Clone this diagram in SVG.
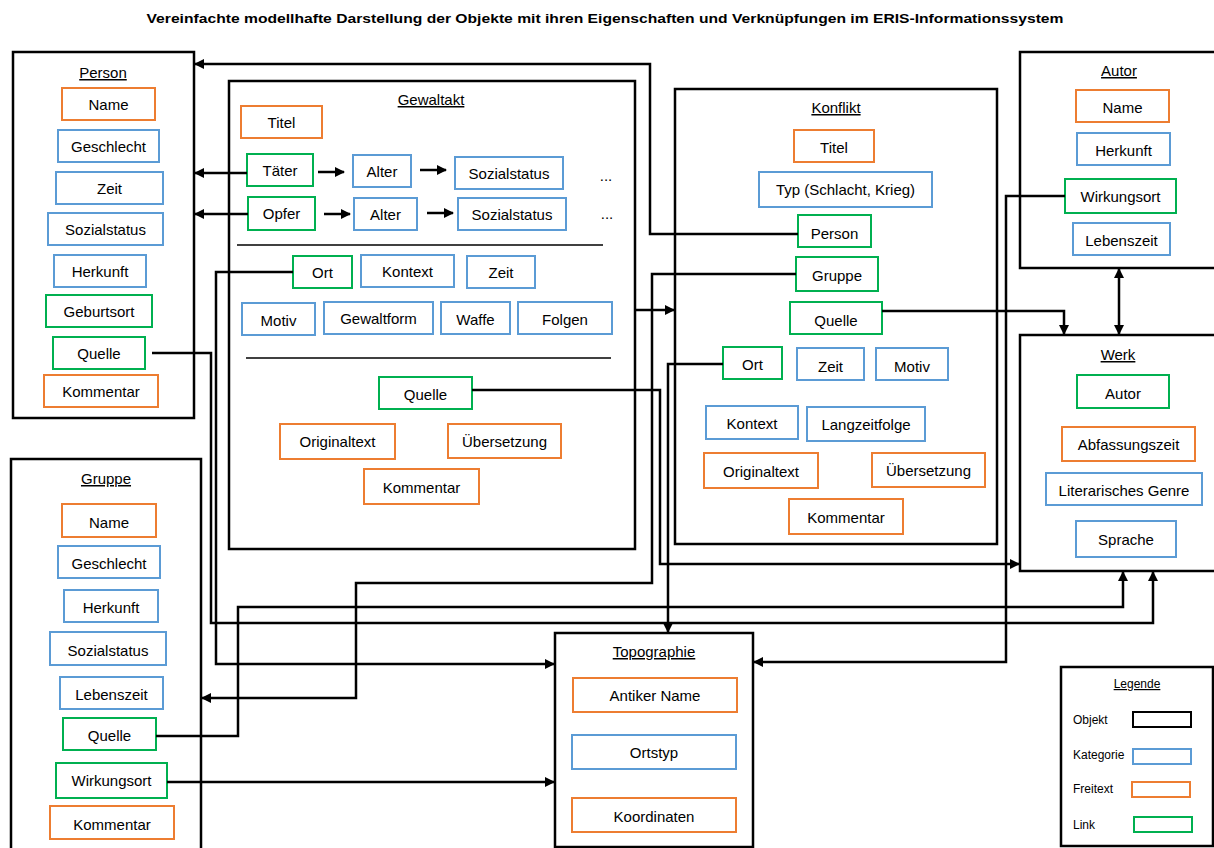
<svg xmlns="http://www.w3.org/2000/svg" width="1214" height="848" viewBox="0 0 1214 848">
  <style>
    text { font-family: "Liberation Sans", Arial, sans-serif; font-size: 15px; fill: #000; text-anchor: middle; }
    .head { text-decoration: underline; font-size: 15px; }
    .title { font-weight: bold; font-size: 13.5px; }
    .leg { font-size: 12px; text-anchor: start; }
    .legh { font-size: 12px; text-decoration: underline; }
    .obj { fill: none; stroke: #000; stroke-width: 2.5; }
    .cat { fill: #fff; stroke: #5B9BD5; stroke-width: 2; }
    .free { fill: #fff; stroke: #ED7D31; stroke-width: 2; }
    .link { fill: #fff; stroke: #00B050; stroke-width: 2; }
    .sep { stroke: #000; stroke-width: 1.5; }
    .con { fill: none; stroke: #000; stroke-width: 2.5; }
    .arr { marker-end: url(#head); }
  </style>
  <defs>
    <marker id="head" markerUnits="userSpaceOnUse" markerWidth="10" markerHeight="10" viewBox="0 0 10 10" refX="9" refY="5" orient="auto">
      <path d="M0,0 L10,5 L0,10 Z" fill="#000"/>
    </marker>
    <marker id="tail" markerUnits="userSpaceOnUse" markerWidth="10" markerHeight="10" viewBox="0 0 10 10" refX="1" refY="5" orient="auto">
      <path d="M10,0 L0,5 L10,10 Z" fill="#000"/>
    </marker>
  </defs>

  <rect width="1214" height="848" fill="#fff"/>

  <text class="title" x="605" y="23" textLength="917" lengthAdjust="spacingAndGlyphs">Vereinfachte modellhafte Darstellung der Objekte mit ihren Eigenschaften und Verknüpfungen im ERIS-Informationssystem</text>

  <!-- Person -->
  <g id="person">
    <rect class="obj" x="13" y="52" width="181" height="366"/>
    <text class="head" x="103" y="78">Person</text>
    <rect class="free" x="62" y="88" width="93" height="32"/><text x="108.5" y="110">Name</text>
    <rect class="cat" x="58" y="130" width="101" height="32"/><text x="108.5" y="152">Geschlecht</text>
    <rect class="cat" x="56" y="172" width="107" height="32"/><text x="109.5" y="194">Zeit</text>
    <rect class="cat" x="48" y="213" width="115" height="32"/><text x="105.5" y="235">Sozialstatus</text>
    <rect class="cat" x="54" y="255" width="92" height="32"/><text x="100" y="277">Herkunft</text>
    <rect class="link" x="46" y="295" width="106" height="32"/><text x="99" y="317">Geburtsort</text>
    <rect class="link" x="53" y="337" width="92" height="32"/><text x="99" y="359">Quelle</text>
    <rect class="free" x="44" y="375" width="114" height="32"/><text x="101" y="397">Kommentar</text>
  </g>

  <!-- Gewaltakt -->
  <g id="gewaltakt">
    <rect class="obj" x="229" y="81" width="406" height="468"/>
    <text class="head" x="431" y="105">Gewaltakt</text>
    <rect class="free" x="241" y="106" width="81" height="32"/><text x="281.5" y="128">Titel</text>
    <rect class="link" x="247" y="154" width="66" height="32"/><text x="280" y="176">Täter</text>
    <rect class="cat" x="353" y="155" width="58" height="32"/><text x="382" y="177">Alter</text>
    <rect class="cat" x="455" y="157" width="108" height="32"/><text x="509" y="179">Sozialstatus</text>
    <text x="606" y="181">...</text>
    <rect class="link" x="248" y="197" width="67" height="33"/><text x="281.5" y="219">Opfer</text>
    <rect class="cat" x="354" y="198" width="63" height="32"/><text x="385.5" y="220">Alter</text>
    <rect class="cat" x="458" y="198" width="108" height="32"/><text x="512" y="220">Sozialstatus</text>
    <text x="607" y="219">...</text>
    <line class="sep" x1="237" y1="245" x2="603" y2="245"/>
    <rect class="link" x="293" y="256" width="59" height="32"/><text x="322.5" y="278">Ort</text>
    <rect class="cat" x="361" y="255" width="93" height="32"/><text x="407.5" y="277">Kontext</text>
    <rect class="cat" x="467" y="256" width="68" height="32"/><text x="501" y="278">Zeit</text>
    <rect class="cat" x="242" y="303" width="73" height="32"/><text x="278.5" y="326">Motiv</text>
    <rect class="cat" x="324" y="302" width="109" height="32"/><text x="378.5" y="324">Gewaltform</text>
    <rect class="cat" x="441" y="302" width="69" height="32"/><text x="475.5" y="325">Waffe</text>
    <rect class="cat" x="518" y="302" width="94" height="32"/><text x="565" y="325">Folgen</text>
    <line class="sep" x1="246" y1="358" x2="611" y2="358"/>
    <rect class="link" x="379" y="377" width="93" height="32"/><text x="425.5" y="400">Quelle</text>
    <rect class="free" x="280" y="424" width="115" height="35"/><text x="337.5" y="447">Originaltext</text>
    <rect class="free" x="448" y="424" width="113" height="34"/><text x="504.5" y="447">Übersetzung</text>
    <rect class="free" x="364" y="469" width="115" height="35"/><text x="421.5" y="493">Kommentar</text>
  </g>

  <!-- Konflikt -->
  <g id="konflikt">
    <rect class="obj" x="675" y="89" width="322" height="455"/>
    <text class="head" x="836" y="113">Konflikt</text>
    <rect class="free" x="794" y="130" width="80" height="32"/><text x="834" y="153">Titel</text>
    <rect class="cat" x="759" y="172" width="173" height="35"/><text x="845.5" y="195">Typ (Schlacht, Krieg)</text>
    <rect class="link" x="798" y="215" width="73" height="32"/><text x="834.5" y="239">Person</text>
    <rect class="link" x="796" y="257" width="82" height="34"/><text x="837" y="281">Gruppe</text>
    <rect class="link" x="790" y="302" width="92" height="32"/><text x="836" y="326">Quelle</text>
    <rect class="link" x="723" y="347" width="59" height="32"/><text x="752.5" y="370">Ort</text>
    <rect class="cat" x="797" y="348" width="67" height="32"/><text x="830.5" y="372">Zeit</text>
    <rect class="cat" x="876" y="348" width="72" height="32"/><text x="912" y="372">Motiv</text>
    <rect class="cat" x="706" y="406" width="92" height="33"/><text x="752" y="429">Kontext</text>
    <rect class="cat" x="807" y="407" width="118" height="34"/><text x="866" y="430">Langzeitfolge</text>
    <rect class="free" x="704" y="453" width="114" height="35"/><text x="761" y="477">Originaltext</text>
    <rect class="free" x="872" y="453" width="113" height="34"/><text x="928.5" y="476">Übersetzung</text>
    <rect class="free" x="789" y="499" width="114" height="35"/><text x="846" y="523">Kommentar</text>
  </g>

  <!-- Autor -->
  <g id="autor">
    <rect class="obj" x="1020" y="52" width="200" height="216"/>
    <text class="head" x="1119" y="76">Autor</text>
    <rect class="free" x="1076" y="90" width="93" height="32"/><text x="1122.5" y="113">Name</text>
    <rect class="cat" x="1077" y="133" width="93" height="32"/><text x="1123.5" y="156">Herkunft</text>
    <rect class="link" x="1065" y="179" width="111" height="34"/><text x="1120.5" y="202">Wirkungsort</text>
    <rect class="cat" x="1073" y="223" width="97" height="32"/><text x="1121.5" y="246">Lebenszeit</text>
  </g>

  <!-- Werk -->
  <g id="werk">
    <rect class="obj" x="1020" y="335" width="200" height="236"/>
    <text class="head" x="1118" y="360">Werk</text>
    <rect class="link" x="1077" y="375" width="92" height="33"/><text x="1123" y="399">Autor</text>
    <rect class="free" x="1062" y="427" width="133" height="34"/><text x="1128.5" y="450">Abfassungszeit</text>
    <rect class="cat" x="1046" y="473" width="156" height="32"/><text x="1124" y="496">Literarisches Genre</text>
    <rect class="cat" x="1076" y="521" width="100" height="36"/><text x="1126" y="545">Sprache</text>
  </g>

  <!-- Gruppe -->
  <g id="gruppe">
    <rect class="obj" x="11" y="459" width="190" height="400"/>
    <text class="head" x="106" y="484">Gruppe</text>
    <rect class="free" x="62" y="504" width="94" height="33"/><text x="109" y="528">Name</text>
    <rect class="cat" x="58" y="546" width="102" height="32"/><text x="109" y="569">Geschlecht</text>
    <rect class="cat" x="64" y="590" width="94" height="32"/><text x="111" y="613">Herkunft</text>
    <rect class="cat" x="50" y="632" width="116" height="33"/><text x="108" y="656">Sozialstatus</text>
    <rect class="cat" x="60" y="677" width="103" height="32"/><text x="111.5" y="700">Lebenszeit</text>
    <rect class="link" x="63" y="718" width="93" height="32"/><text x="109.5" y="741">Quelle</text>
    <rect class="link" x="56" y="763" width="111" height="35"/><text x="111.5" y="786">Wirkungsort</text>
    <rect class="free" x="50" y="806" width="124" height="33"/><text x="112" y="830">Kommentar</text>
  </g>

  <!-- Topographie -->
  <g id="topographie">
    <rect class="obj" x="555" y="633" width="198" height="214"/>
    <text class="head" x="654" y="657">Topographie</text>
    <rect class="free" x="573" y="678" width="164" height="34"/><text x="655" y="701">Antiker Name</text>
    <rect class="cat" x="572" y="735" width="164" height="34"/><text x="654" y="758">Ortstyp</text>
    <rect class="free" x="572" y="798" width="164" height="34"/><text x="654" y="822">Koordinaten</text>
  </g>

  <!-- Legende -->
  <g id="legende">
    <rect class="obj" x="1061" y="667" width="152" height="179"/>
    <text class="legh" x="1137" y="688">Legende</text>
    <text class="leg" x="1073" y="724">Objekt</text>
    <rect x="1133" y="712" width="58" height="15" fill="#fff" stroke="#000" stroke-width="2"/>
    <text class="leg" x="1073" y="759">Kategorie</text>
    <rect class="cat" x="1133" y="749" width="58" height="15"/>
    <text class="leg" x="1073" y="793">Freitext</text>
    <rect class="free" x="1132" y="782" width="58" height="15"/>
    <text class="leg" x="1073" y="829">Link</text>
    <rect class="link" x="1134" y="817" width="58" height="15"/>
  </g>

  <!-- Connectors -->
  <g id="connectors">
    <!-- inside Gewaltakt: Täter/Opfer attribute chains -->
    <path class="con arr" d="M318,172 H344"/>
    <path class="con arr" d="M420,170 H446"/>
    <path class="con arr" d="M324,214 H350"/>
    <path class="con arr" d="M427,213 H453"/>
    <!-- links to Person -->
    <path class="con arr" d="M798,234 H650 V64 H195"/>
    <path class="con arr" d="M247,173 H195"/>
    <path class="con arr" d="M248,214 H195"/>
    <!-- Quelle links to Werk -->
    <path class="con arr" d="M152,353 H211 V623 H1153 V572"/>
    <path class="con arr" d="M156,736 H238 V607 H1123 V572"/>
    <path class="con arr" d="M472,390 H660 V564 H1019"/>
    <path class="con arr" d="M882,311 H1064 V334"/>
    <!-- place links to Topographie -->
    <path class="con arr" d="M293,272 H216 V664 H554"/>
    <path class="con arr" d="M723,364 H668 V632"/>
    <path class="con arr" d="M1065,196 H1006 V662 H754"/>
    <path class="con arr" d="M167,782 H554"/>
    <!-- Konflikt.Gruppe to Gruppe -->
    <path class="con arr" d="M796,274 H652 V583 H356 V698 H202"/>
    <!-- Gewaltakt to Konflikt -->
    <path class="con arr" d="M636,310 H674"/>
    <!-- Autor and Werk -->
    <path class="con arr" d="M1119,269 V334" marker-start="url(#tail)"/>
  </g>
</svg>
